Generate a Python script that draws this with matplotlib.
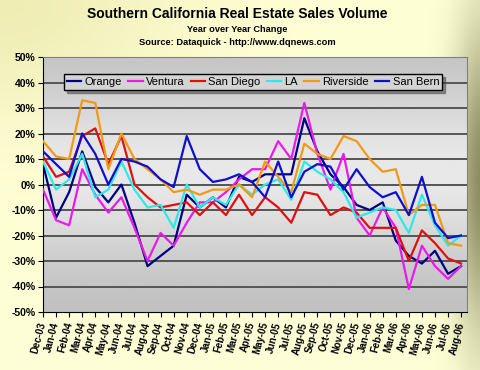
import matplotlib
matplotlib.use("Agg")
import matplotlib.pyplot as plt
import numpy as np

plt.rcParams['font.family'] = ['Liberation Sans', 'DejaVu Sans']

months = ["Dec-03", "Jan-04", "Feb-04", "Mar-04", "Apr-04", "May-04", "Jun-04", "Jul-04",
          "Aug-04", "Sep-04", "Oct-04", "Nov-04", "Dec-04", "Jan-05", "Feb-05", "Mar-05",
          "Apr-05", "May-05", "Jun-05", "Jul-05", "Aug-05", "Sep-05", "Oct-05", "Nov-05",
          "Dec-05", "Jan-06", "Feb-06", "Mar-06", "Apr-06", "May-06", "Jun-06", "Jul-06",
          "Aug-06"]

# year over year change, %
orange = [8, -13, -3, 13, -1, -7, 0, -15, -32, -28, -24, -4, -9, -5, -9, 3,
          1, 4, 4, 4, 26, 13, 4, -1, -8, -10, -7, -22, -28, -31, -26, -35, -32]
ventura = [-2, -14, -16, 6, -4, -11, -5, -17, -30, -19, -24, -15, -7, -7, -3, 2,
           6, 6, 17, 10, 32, 12, -2, 12, -13, -20, -9, -17, -41, -24, -32, -37, -32]
san_diego = [11, 3, 5, 19, 22, 8, 19, 0, -5, -9, -8, -7, -12, -7, -12, -4,
             -12, -5, -9, -15, -3, -4, -12, -9, -11, -17, -17, -17, -30, -18, -23, -29, -31]
la = [9, -2, 2, 12, -5, -2, 9, -2, -9, -8, -17, 0, -9, -5, -8, 0,
      -4, 0, 2, -6, 9, 5, 2, -3, -13, -11, -9, -10, -19, -4, -16, -24, -20]
riverside = [17, 11, 10, 33, 32, 6, 20, 10, 6, 2, -3, -2, -4, -2, -2, 0,
             -5, 9, 3, -3, 16, 12, 10, 19, 17, 10, 5, 6, -12, -8, -8, -23, -24]
san_bern = [13, 8, 3, 20, 12, 0, 10, 9, 7, 2, -1, 19, 6, 1, 2, 4,
            1, -5, 9, -5, 5, 8, 7, -2, 6, -1, -5, -3, -12, 3, -15, -21, -20]

series = [("Orange", orange, "#000080"),
          ("Ventura", ventura, "#E81CE8"),
          ("San Diego", san_diego, "#E01010"),
          ("LA", la, "#30E8E8"),
          ("Riverside", riverside, "#F09A18"),
          ("San Bern", san_bern, "#1010C8")]

W, H = 480, 370
fig = plt.figure(figsize=(W / 100, H / 100), dpi=100)

# yellow background with olive shading on the right edge
yy, xx = np.mgrid[0:H, 0:W]
pale = np.array([1.0, 1.0, 0.84])
olive = np.array([0.55, 0.55, 0.38])
dark_yel = np.array([0.90, 0.88, 0.62])
w1 = np.exp(-((xx - 482) / 28.0) ** 2 - ((yy - 180) / 150.0) ** 2)[..., None]
w2 = 0.6 * np.exp(-(xx / 180.0) ** 2 - (yy / 120.0) ** 2)[..., None]
bg = pale * (1 - w2) + dark_yel * w2
bg = bg * (1 - w1) + olive * w1
bax = fig.add_axes([0, 0, 1, 1], zorder=-10)
bax.imshow(bg, aspect='auto', extent=(0, 1, 0, 1))
bax.axis('off')

ax = fig.add_axes([43 / W, 1 - 312 / H, 424 / W, 255 / H])
ax.set_facecolor('none')

# gray gradient in the plot area
t = np.linspace(0, 1, 200)
g = 0.74 + 0.17 * np.exp(-((t - 0.55) / 0.35) ** 2)
ax.imshow(np.repeat(g[:, None], 2, axis=1), cmap='gray', vmin=0, vmax=1, aspect='auto',
          extent=(0, 1, 0, 1), transform=ax.transAxes, origin='lower', zorder=0)

x = np.arange(len(months))
for name, vals, col in series:
    ax.plot(x, vals, color=col, lw=1.6, label=name, zorder=3)

ax.set_xlim(0, 32.45)
ax.set_ylim(-50, 50)
ax.set_yticks(np.arange(-50, 51, 10))
ax.set_yticklabels([f"{v}%" for v in range(-50, 51, 10)], fontsize=7.5, fontweight='bold')
for v in range(-40, 50, 10):
    ax.axhline(v, color='#555555', lw=1.4, zorder=1)

ax.set_xticks(x)
ax.set_xticklabels(months, fontsize=7, fontweight='bold', rotation=75,
                   ha='right', va='center', rotation_mode='anchor')
ax.tick_params(axis='both', direction='out', length=3.5, width=0.8, color='black', pad=2)
ax.tick_params(axis='x', pad=4)

ax.spines['left'].set_color('black')
ax.spines['bottom'].set_color('black')
ax.spines['top'].set_color('#808080')
ax.spines['right'].set_color('#808080')

leg = ax.legend(loc='lower left', bbox_to_anchor=(0.0495, 0.8706, 0.8915, 0.0784),
                mode='expand', ncol=6, fontsize=8, handlelength=1.3, handletextpad=0.3,
                borderpad=0.25, frameon=True, fancybox=False, shadow=True,
                borderaxespad=0)
leg.get_frame().set_edgecolor('black')
leg.get_frame().set_facecolor('#d4d4d4')
leg.get_frame().set_linewidth(1.0)
leg.set_zorder(5)

fig.text(0.495, 1 - 14 / H, "Southern California Real Estate Sales Volume",
         ha='center', va='center', fontsize=10, fontweight='bold')
fig.text(0.495, 1 - 30 / H, "Year over Year Change",
         ha='center', va='center', fontsize=6.7, fontweight='bold')
fig.text(0.495, 1 - 42.5 / H, "Source: Dataquick - http://www.dqnews.com",
         ha='center', va='center', fontsize=6.7, fontweight='bold')

fig.savefig("out.png", dpi=100)
